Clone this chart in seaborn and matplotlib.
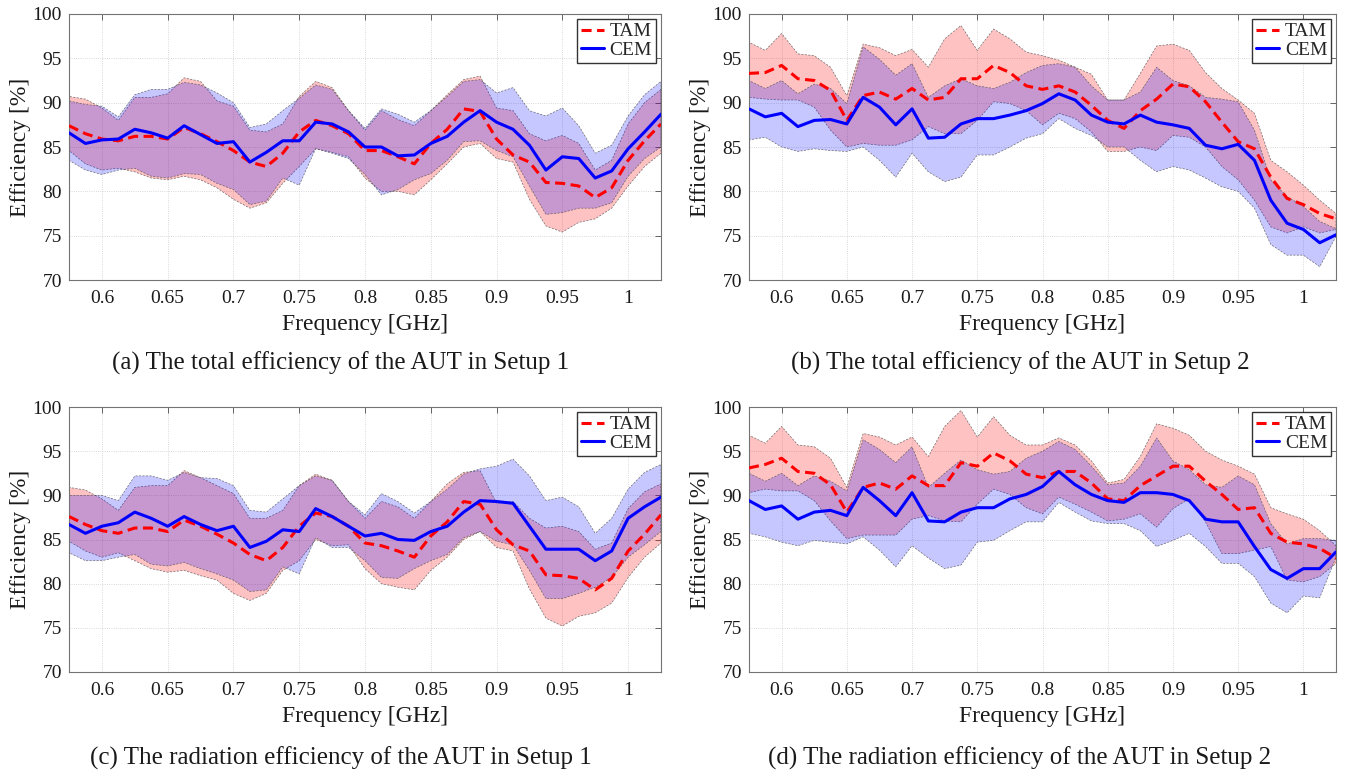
import numpy as np
import pandas as pd
import matplotlib
matplotlib.use("Agg")
import matplotlib.pyplot as plt
import seaborn as sns

sns.set_style("white")
plt.rcParams['font.family'] = ['Liberation Serif', 'DejaVu Serif']

# frequency grid [GHz]
freq = [0.575, 0.5875, 0.6, 0.6125, 0.625, 0.6375, 0.65, 0.6625, 0.675, 0.6875,
        0.7, 0.7125, 0.725, 0.7375, 0.75, 0.7625, 0.775, 0.7875, 0.8, 0.8125,
        0.825, 0.8375, 0.85, 0.8625, 0.875, 0.8875, 0.9, 0.9125, 0.925, 0.9375,
        0.95, 0.9625, 0.975, 0.9875, 1.0, 1.0125, 1.025]

# (a) total efficiency, setup 1
a_tam = [87.4, 86.5, 85.9, 85.7, 86.2, 86.2, 85.9, 87.2, 86.5, 85.6, 84.6, 83.3, 82.8, 84.3, 86.7, 88.0, 87.4, 86.5, 84.6,
         84.6, 83.9, 83.1, 85.4, 87.0, 89.3, 89.0, 85.9, 84.1, 83.3, 81.0, 80.9, 80.6, 79.3, 80.4, 83.5, 85.7, 87.6]
a_tam_lo = [84.6, 83.1, 82.4, 82.6, 82.2, 81.5, 81.3, 81.7, 81.3, 80.4, 79.1, 78.1, 78.7, 80.9, 82.8, 84.8, 84.4, 83.9, 81.5,
            80.0, 80.0, 79.6, 81.3, 83.1, 85.0, 85.4, 83.7, 83.3, 79.1, 76.1, 75.4, 76.5, 76.9, 78.1, 80.6, 82.8, 84.3]
a_tam_hi = [90.7, 90.4, 89.4, 88.0, 90.6, 90.6, 91.0, 92.8, 92.4, 90.2, 89.6, 86.9, 86.7, 87.6, 90.7, 92.4, 91.7, 89.1, 86.9,
            89.1, 88.1, 87.4, 89.1, 90.9, 92.6, 93.0, 89.4, 89.1, 86.5, 85.7, 86.3, 85.4, 82.4, 83.5, 87.6, 90.0, 91.5]
a_cem = [86.6, 85.4, 85.8, 85.9, 87.0, 86.6, 86.0, 87.4, 86.4, 85.4, 85.6, 83.3, 84.4, 85.7, 85.7, 87.8, 87.6, 86.7, 85.0,
         85.0, 84.0, 84.1, 85.4, 86.2, 87.8, 89.1, 87.8, 87.0, 85.2, 82.4, 83.9, 83.7, 81.5, 82.3, 84.8, 86.7, 88.7]
a_cem_lo = [83.5, 82.4, 81.9, 82.4, 82.6, 81.7, 81.5, 82.0, 81.9, 80.9, 80.2, 78.5, 78.9, 81.5, 80.7, 84.8, 84.3, 83.7, 81.9,
            79.6, 80.2, 81.3, 82.0, 83.5, 85.6, 85.7, 84.6, 83.9, 80.6, 77.4, 77.6, 78.1, 78.1, 78.7, 81.7, 83.7, 85.0]
a_cem_hi = [90.2, 89.8, 89.6, 88.4, 90.9, 91.5, 91.5, 92.3, 92.0, 91.1, 90.0, 87.2, 87.6, 89.1, 90.5, 92.0, 91.5, 89.1, 87.1,
            89.3, 88.7, 87.8, 89.1, 90.7, 92.4, 92.6, 91.1, 91.7, 89.1, 88.5, 89.4, 87.4, 84.3, 85.2, 88.5, 90.9, 92.4]

# (b) total efficiency, setup 2
b_tam = [93.3, 93.4, 94.2, 92.7, 92.5, 91.4, 88.0, 90.8, 91.2, 90.4, 91.6, 90.3, 90.6, 92.7, 92.7, 94.2, 93.4, 91.9, 91.5,
         91.9, 91.2, 89.7, 88.0, 87.1, 89.1, 90.4, 92.1, 91.8, 90.1, 87.8, 85.6, 84.8, 81.6, 79.2, 78.5, 77.5, 76.9]
b_tam_lo = [90.6, 90.4, 90.3, 90.3, 89.5, 86.9, 85.0, 85.4, 85.2, 85.2, 85.8, 87.3, 86.5, 86.5, 88.0, 90.1, 89.9, 89.1, 87.5,
            88.8, 88.2, 86.7, 84.5, 84.5, 85.0, 84.6, 86.3, 86.1, 85.0, 82.8, 81.3, 79.0, 76.0, 75.3, 76.0, 75.3, 75.7]
b_tam_hi = [96.8, 95.9, 97.8, 95.5, 95.3, 94.0, 90.8, 96.6, 96.2, 95.3, 96.0, 94.0, 97.2, 98.7, 95.9, 98.3, 97.2, 95.7, 95.3,
            94.8, 94.0, 93.2, 90.3, 90.3, 93.3, 96.4, 96.6, 95.9, 93.4, 91.6, 90.3, 88.8, 83.5, 82.2, 80.7, 79.0, 77.5]
b_cem = [89.3, 88.4, 88.8, 87.3, 88.0, 88.1, 87.6, 90.6, 89.5, 87.5, 89.3, 86.0, 86.1, 87.6, 88.2, 88.2, 88.6, 89.1, 89.9,
         91.0, 90.3, 88.6, 87.8, 87.6, 88.6, 87.8, 87.5, 87.1, 85.2, 84.8, 85.3, 83.5, 79.0, 76.4, 75.7, 74.2, 75.1]
b_cem_lo = [85.8, 86.1, 85.0, 84.5, 84.8, 84.6, 84.5, 85.0, 83.5, 81.6, 84.3, 82.2, 81.1, 81.6, 84.1, 84.1, 85.0, 86.0, 86.5,
            88.2, 87.1, 86.3, 85.0, 85.0, 83.5, 82.2, 82.8, 82.4, 81.5, 80.5, 80.0, 78.1, 74.0, 72.8, 72.8, 71.5, 74.9]
b_cem_hi = [92.5, 91.6, 92.5, 91.0, 92.1, 91.6, 89.9, 96.3, 94.9, 93.1, 94.4, 90.6, 91.9, 92.7, 91.9, 91.6, 92.3, 93.4, 94.2,
            94.4, 94.0, 91.9, 90.3, 90.3, 91.2, 94.0, 92.5, 91.9, 90.6, 90.4, 90.1, 86.9, 81.3, 79.4, 78.3, 76.6, 75.8]

# (c) radiation efficiency, setup 1
c_tam = [87.6, 86.7, 86.0, 85.7, 86.3, 86.3, 85.9, 87.2, 86.5, 85.6, 84.6, 83.3, 82.6, 84.1, 86.5, 88.0, 87.6, 86.5, 84.6,
         84.3, 83.7, 83.0, 85.4, 87.0, 89.3, 89.0, 86.1, 84.4, 83.7, 81.0, 80.9, 80.6, 79.3, 80.6, 83.7, 85.6, 87.8]
c_tam_lo = [84.8, 83.7, 83.0, 83.5, 82.6, 81.7, 81.3, 81.5, 80.9, 80.4, 78.9, 78.1, 78.9, 81.5, 82.6, 85.0, 84.3, 84.4, 81.7,
            80.0, 79.6, 79.3, 81.5, 83.0, 85.0, 85.9, 84.1, 83.7, 79.4, 76.1, 75.2, 76.3, 76.7, 77.8, 80.7, 83.0, 84.6]
c_tam_hi = [90.9, 90.6, 89.6, 88.3, 90.9, 91.1, 91.1, 92.8, 92.0, 91.1, 90.2, 87.4, 87.4, 88.3, 91.1, 92.4, 91.7, 89.3, 87.4,
            89.3, 88.7, 87.4, 89.3, 91.3, 92.6, 92.8, 89.1, 89.3, 87.4, 86.3, 86.5, 85.9, 83.9, 84.6, 88.5, 90.4, 91.3]
c_cem = [86.7, 85.7, 86.5, 86.9, 88.1, 87.4, 86.5, 87.6, 86.7, 86.0, 86.5, 84.1, 84.8, 86.1, 85.9, 88.5, 87.6, 86.5, 85.4,
         85.7, 85.0, 84.9, 85.9, 86.5, 88.1, 89.4, 89.3, 89.1, 86.5, 83.9, 83.9, 83.9, 82.6, 83.7, 87.4, 88.7, 89.8]
c_cem_lo = [83.5, 82.6, 82.6, 83.0, 83.3, 82.2, 82.0, 82.4, 81.7, 81.1, 80.4, 79.1, 79.3, 81.9, 81.1, 85.2, 84.1, 84.1, 82.6,
            80.7, 80.6, 81.7, 82.6, 83.3, 85.2, 85.9, 84.8, 84.4, 81.5, 78.3, 78.3, 78.9, 79.6, 80.7, 83.0, 84.4, 85.9]
c_cem_hi = [90.0, 90.0, 90.0, 89.4, 92.2, 92.2, 91.7, 92.6, 92.0, 91.9, 91.1, 88.3, 88.1, 89.6, 91.1, 92.2, 91.7, 89.3, 87.8,
            90.2, 89.3, 88.0, 89.3, 90.7, 92.4, 93.0, 93.3, 94.1, 92.2, 89.4, 89.8, 88.7, 85.7, 87.4, 90.7, 92.6, 93.5]

# (d) radiation efficiency, setup 2
d_tam = [93.1, 93.5, 94.2, 92.7, 92.5, 91.2, 88.1, 90.9, 91.4, 90.7, 92.2, 91.1, 91.1, 93.7, 93.3, 94.8, 93.9, 92.4, 92.0,
         92.7, 92.7, 91.4, 89.6, 89.4, 91.1, 92.2, 93.3, 93.3, 91.6, 90.1, 88.4, 88.6, 85.7, 84.7, 84.5, 84.0, 82.9]
d_tam_lo = [90.3, 90.7, 90.5, 90.5, 89.4, 87.1, 85.1, 85.5, 85.5, 85.5, 87.3, 87.7, 87.1, 87.0, 89.0, 90.7, 90.1, 88.6, 87.9,
            89.8, 89.0, 88.1, 87.1, 87.3, 87.9, 86.4, 88.5, 89.6, 87.0, 83.4, 83.4, 83.8, 84.2, 80.4, 80.2, 80.8, 82.3]
d_tam_hi = [96.8, 95.9, 97.8, 95.7, 95.5, 94.2, 90.9, 97.0, 96.6, 95.7, 96.6, 94.4, 97.8, 99.6, 96.6, 98.9, 96.8, 95.7, 95.7,
            96.5, 95.7, 93.9, 91.4, 91.8, 94.4, 98.1, 97.6, 96.8, 95.0, 94.0, 93.3, 92.4, 88.6, 87.9, 87.3, 86.0, 84.3]
d_cem = [89.4, 88.4, 88.8, 87.3, 88.1, 88.3, 87.7, 90.9, 89.4, 87.7, 90.3, 87.1, 87.0, 88.1, 88.6, 88.6, 89.6, 90.1, 91.0,
         92.7, 91.2, 90.1, 89.4, 89.2, 90.3, 90.3, 90.1, 89.4, 87.3, 87.0, 87.0, 84.2, 81.6, 80.6, 81.7, 81.7, 83.6]
d_cem_lo = [85.7, 85.3, 84.7, 84.3, 84.9, 84.7, 84.5, 85.3, 83.8, 81.9, 84.3, 82.9, 81.7, 82.1, 84.7, 84.9, 86.0, 87.0, 87.0,
            89.2, 88.1, 87.1, 86.8, 86.8, 86.0, 84.2, 84.9, 85.7, 84.2, 82.3, 82.3, 80.8, 77.8, 76.7, 78.6, 78.4, 83.0]
d_cem_hi = [92.5, 91.6, 92.5, 91.1, 92.2, 91.6, 90.5, 96.3, 95.2, 93.7, 95.5, 90.9, 92.5, 94.0, 92.9, 92.4, 92.7, 94.2, 95.0,
            96.1, 95.2, 93.3, 91.2, 91.4, 93.3, 96.5, 93.9, 92.9, 91.2, 90.9, 92.2, 91.2, 86.8, 84.5, 85.1, 85.1, 84.9]

x_ticks = [0.6, 0.65, 0.7, 0.75, 0.8, 0.85, 0.9, 0.95, 1.0]
x_tick_labels = ["0.6", "0.65", "0.7", "0.75", "0.8", "0.85", "0.9", "0.95", "1"]
y_ticks = [70, 75, 80, 85, 90, 95, 100]

captions = ["(a) The total efficiency of the AUT in Setup 1",
            "(b) The total efficiency of the AUT in Setup 2",
            "(c) The radiation efficiency of the AUT in Setup 1",
            "(d) The radiation efficiency of the AUT in Setup 2"]

panels = [
    (a_tam, a_tam_lo, a_tam_hi, a_cem, a_cem_lo, a_cem_hi),
    (b_tam, b_tam_lo, b_tam_hi, b_cem, b_cem_lo, b_cem_hi),
    (c_tam, c_tam_lo, c_tam_hi, c_cem, c_cem_lo, c_cem_hi),
    (d_tam, d_tam_lo, d_tam_hi, d_cem, d_cem_lo, d_cem_hi),
]

W, H = 1352, 776
fig = plt.figure(figsize=(W / 100, H / 100), dpi=100)

# axes boxes in pixels: left, top, right, bottom
boxes = [(69, 14, 661, 280), (749, 14, 1336, 280),
         (69, 407, 661, 672), (749, 407, 1336, 672)]
cap_pos = [(341, 363), (1020, 363), (341, 758), (1020, 758)]

edge = (0.3, 0.3, 0.3, 0.8)

for i, (tam, tam_lo, tam_hi, cem, cem_lo, cem_hi) in enumerate(panels):
    l, t, r, b = boxes[i]
    ax = fig.add_axes([l / W, 1 - b / H, (r - l) / W, (b - t) / H])

    # uncertainty bands
    ax.fill_between(freq, tam_lo, tam_hi, facecolor=(1, 0, 0, 0.24), edgecolor=edge,
                    linewidth=0.5, linestyle=(0, (3, 2)), zorder=1)
    ax.fill_between(freq, cem_lo, cem_hi, facecolor=(0, 0, 1, 0.22), edgecolor=edge,
                    linewidth=0.5, linestyle=(0, (3, 2)), zorder=1)

    df = pd.DataFrame({
        'freq': freq + freq,
        'eff': tam + cem,
        'method': ['TAM'] * len(freq) + ['CEM'] * len(freq),
    })
    sns.lineplot(data=df, x='freq', y='eff', hue='method', style='method',
                 palette={'TAM': 'red', 'CEM': 'blue'},
                 dashes={'TAM': (3.3, 1.8), 'CEM': ''},
                 linewidth=2.2, legend=False, ax=ax, zorder=3)

    ax.set_xlim(0.575, 1.025)
    ax.set_ylim(70, 100)
    ax.set_xticks(x_ticks)
    ax.set_xticklabels(x_tick_labels)
    ax.set_yticks(y_ticks)
    ax.tick_params(direction='in', length=4, width=0.6, color='0.3',
                   top=True, right=True, labelsize=14, labelcolor='#1a1a1a')
    ax.tick_params(axis='x', pad=7)
    ax.tick_params(axis='y', pad=5)
    ax.grid(True, linestyle=':', linewidth=0.6, color='0.8')
    ax.set_axisbelow(True)
    for s in ax.spines.values():
        s.set_color('0.45')
        s.set_linewidth(0.8)

    ax.set_xlabel('Frequency [GHz]', fontsize=17, labelpad=5, color='#1a1a1a')
    ax.set_ylabel('Efficiency [%]', fontsize=17, labelpad=1, color='#1a1a1a')

    lines = ax.get_lines()
    ax.legend(lines[:2], ['TAM', 'CEM'], loc='upper right', fontsize=14,
              frameon=True, fancybox=False, edgecolor='0.2', framealpha=1,
              handlelength=1.2, handletextpad=0.3, borderpad=0.2,
              labelspacing=0.05, borderaxespad=0.25)

    cx, cy = cap_pos[i]
    fig.text(cx / W, 1 - cy / H, captions[i], ha='center', va='center',
             fontsize=18, color='#1a1a1a')

fig.savefig('out.png', dpi=100)
